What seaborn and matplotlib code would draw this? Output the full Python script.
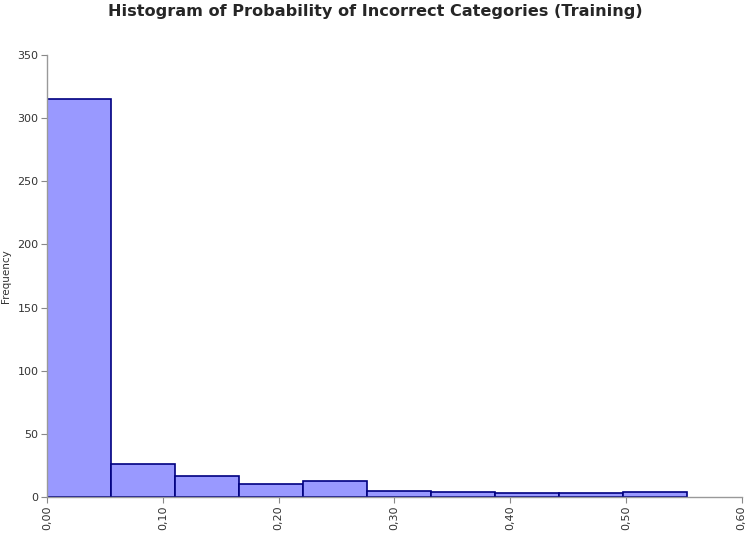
import numpy as np
import pandas as pd
import matplotlib
matplotlib.use("Agg")
import matplotlib.pyplot as plt
import seaborn as sns

# histogram of probability of incorrect category (training set)
bin_width = 0.05525
n_bins = 10
counts = [315, 26, 17, 10, 13, 5, 4, 3, 3, 4]
x_ticks = [0.0, 0.1, 0.2, 0.3, 0.4, 0.5, 0.6]
x_tick_labels = ["0,00", "0,10", "0,20", "0,30", "0,40", "0,50", "0,60"]
y_ticks = [0, 50, 100, 150, 200, 250, 300, 350]

edges = np.arange(n_bins + 1) * bin_width
centers = (edges[:-1] + edges[1:]) / 2
df = pd.DataFrame({"prob": centers, "count": counts})

sns.set_style("white")
plt.rcParams["font.family"] = ["DejaVu Sans"]

fig = plt.figure(figsize=(7.51, 5.33), dpi=100)
ax = fig.add_axes([0.0626, 0.0675, 0.925, 0.8295])

sns.histplot(data=df, x="prob", weights="count", bins=list(edges), ax=ax,
             color="#9999ff", edgecolor="#000080", linewidth=1.2, alpha=1)

ax.set_xlim(0, 0.6)
ax.set_ylim(0, 350)
ax.set_xticks(x_ticks)
ax.set_xticklabels(x_tick_labels, rotation=90, fontsize=8, color="#333333")
ax.set_yticks(y_ticks)
ax.set_yticklabels([str(v) for v in y_ticks], fontsize=8, color="#333333")
ax.tick_params(axis="both", direction="out", length=4, width=0.8, color="#888888", pad=2,
               bottom=True, left=True)

for s in ["top", "right"]:
    ax.spines[s].set_visible(False)
for s in ["left", "bottom"]:
    ax.spines[s].set_color("#999999")
    ax.spines[s].set_linewidth(1)

ax.set_xlabel("")
ax.set_ylabel("Frequency", fontsize=7.5, color="#333333")
ax.yaxis.set_label_coords(-0.052, 0.5)

fig.suptitle("Histogram of Probability of Incorrect Categories (Training)",
             fontsize=11.6, fontweight="bold", y=0.993)

fig.savefig("out.png", dpi=100)
